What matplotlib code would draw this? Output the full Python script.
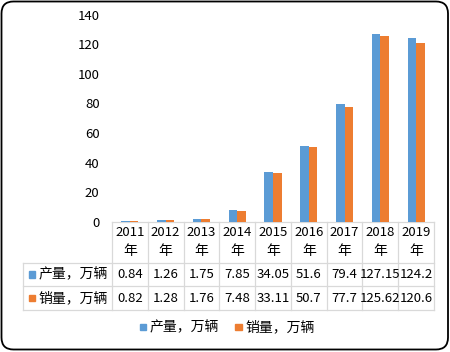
import matplotlib.pyplot as plt
import numpy as np
from matplotlib.patches import FancyBboxPatch, Rectangle

plt.rcParams['font.family'] = ['Noto Sans CJK SC', 'DejaVu Sans']

years = ['2011', '2012', '2013', '2014', '2015', '2016', '2017', '2018', '2019']
production = [0.84, 1.26, 1.75, 7.85, 34.05, 51.6, 79.4, 127.15, 124.2]
sales = [0.82, 1.28, 1.76, 7.48, 33.11, 50.7, 77.7, 125.62, 120.6]
prod_label = '产量，万辆'
sales_label = '销量，万辆'
yticks = [0, 20, 40, 60, 80, 100, 120, 140]

blue = '#5B9BD5'
orange = '#ED7D31'
grid_c = '#D9D9D9'

W, H = 450, 352
fig = plt.figure(figsize=(W / 100, H / 100), dpi=100)

# pixel-space overlay for border, table and legend
ov = fig.add_axes([0, 0, 1, 1])
ov.set_xlim(0, W)
ov.set_ylim(H, 0)
ov.axis('off')

ov.add_patch(FancyBboxPatch((1.5, 1.5), W - 3.5, H - 4, boxstyle='round,pad=0,rounding_size=12',
                            fill=False, edgecolor='black', linewidth=1.3))

# chart area
x0, x1 = 112, 434
y_zero, y_top = 222, 14.5
ax = fig.add_axes([x0 / W, (H - y_zero) / H, (x1 - x0) / W, (y_zero - y_top) / H])
n = len(years)
x = np.arange(n)
bw = 0.24
ax.bar(x - bw / 2, production, bw, color=blue)
ax.bar(x + bw / 2, sales, bw, color=orange)
ax.set_xlim(-0.5, n - 0.5)
ax.set_ylim(0, 140)
ax.set_yticks(yticks)
ax.tick_params(axis='y', length=0, pad=9, labelsize=9.5)
ax.set_xticks([])
for s in ax.spines.values():
    s.set_visible(False)
ax.patch.set_alpha(0)

# data table
cw = (x1 - x0) / n
r0, r1, r2, r3 = 222, 263, 286, 310
lx = 23
lw = 0.9
ov.plot([x0, x1], [r0, r0], color=grid_c, lw=lw)
ov.plot([lx, x1], [r1, r1], color=grid_c, lw=lw)
ov.plot([lx, x1], [r2, r2], color=grid_c, lw=lw)
ov.plot([lx, x1], [r3, r3], color=grid_c, lw=lw)
ov.plot([lx, lx], [r1, r3], color=grid_c, lw=lw)
for i in range(n + 1):
    ov.plot([x0 + i * cw] * 2, [r0, r3], color=grid_c, lw=lw)

fs = 9.5
cfs = 10
for i in range(n):
    cx = x0 + (i + 0.5) * cw
    ov.text(cx, 233, years[i], ha='center', va='center', fontsize=fs)
    ov.text(cx, 251, '年', ha='center', va='center', fontsize=cfs)
    ov.text(cx, (r1 + r2) / 2, f'{production[i]:g}', ha='center', va='center', fontsize=fs)
    ov.text(cx, (r2 + r3) / 2, f'{sales[i]:g}', ha='center', va='center', fontsize=fs)

for (ya, yb), lab, col in [((r1, r2), prod_label, blue), ((r2, r3), sales_label, orange)]:
    cy = (ya + yb) / 2
    ov.add_patch(Rectangle((28.5, cy - 3.5), 6.5, 6.5, color=col))
    ov.text(38.5, cy, lab, ha='left', va='center', fontsize=cfs)

# legend
ly = 327
ov.add_patch(Rectangle((139.5, ly - 3.5), 6.5, 6.5, color=blue))
ov.text(149.5, ly, prod_label, ha='left', va='center', fontsize=cfs)
ov.add_patch(Rectangle((235, ly - 3.5), 6.5, 6.5, color=orange))
ov.text(245, ly, sales_label, ha='left', va='center', fontsize=cfs)

fig.savefig('out.png', dpi=100)
